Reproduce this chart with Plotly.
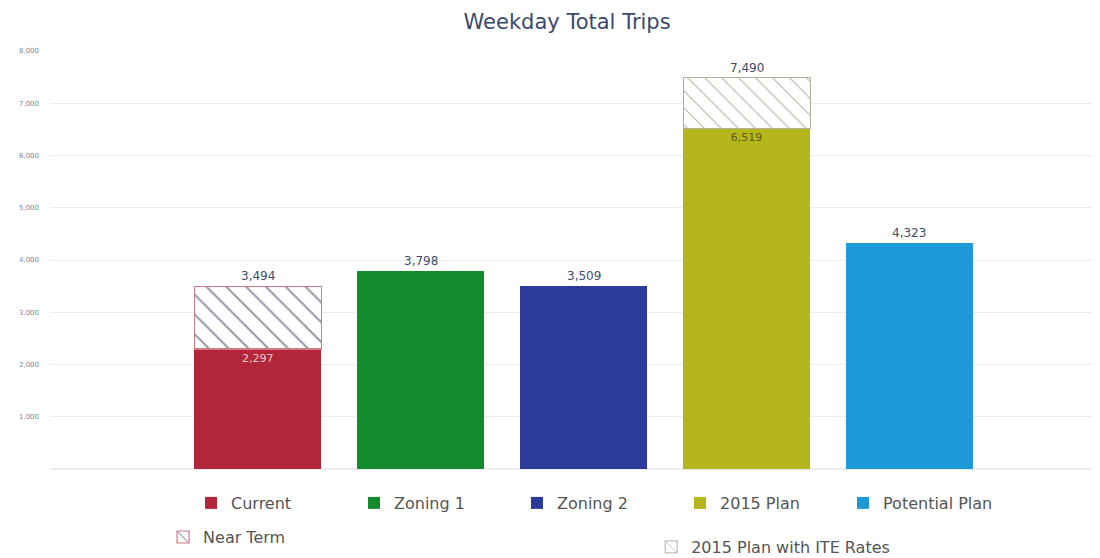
import plotly.graph_objects as go

categories = ["Current", "Zoning 1", "Zoning 2", "2015 Plan", "Potential Plan"]
base_values = [2297, 3798, 3509, 6519, 4323]
colors = ["#b3263a", "#138a2e", "#2c3a9a", "#b5b51c", "#1f9ad8"]

near_term_total = 3494   # Current + Near Term
ite_total = 7490         # 2015 Plan with ITE Rates
near_term_extra = near_term_total - base_values[0]
ite_extra = ite_total - base_values[3]

y_ticks = [1000, 2000, 3000, 4000, 5000, 6000, 7000, 8000]

label_color = "#3d4d6b"
font_family = "'DejaVu Sans', sans-serif"

fig = go.Figure()

inside_text_colors = ["#f3c9cf", None, None, "#5d5d12", None]

for i, (cat, val, col) in enumerate(zip(categories, base_values, colors)):
    kw = {}
    if inside_text_colors[i]:
        kw = dict(text=[f"{val:,}"], textposition="inside", insidetextanchor="end",
                  textfont=dict(color=inside_text_colors[i], size=11, family=font_family),
                  textangle=0)
    fig.add_trace(go.Bar(
        x=[cat], y=[val], name=cat, marker=dict(color=col, line=dict(width=0)),
        width=0.78, legend="legend", hoverinfo="skip", **kw))
    if cat == "Current":
        fig.add_trace(go.Bar(
            x=[cat], y=[near_term_extra], name="Near Term", width=0.78,
            marker=dict(color="white",
                        line=dict(color="#d07a88", width=1.2),
                        pattern=dict(shape="\\", fgcolor="#263050", bgcolor="white",
                                     size=14, solidity=0.14)),
            legend="legend2", hoverinfo="skip"))
    if cat == "2015 Plan":
        fig.add_trace(go.Bar(
            x=[cat], y=[ite_extra], name="2015 Plan with ITE Rates", width=0.78,
            marker=dict(color="white",
                        line=dict(color="#b0b0a0", width=1),
                        pattern=dict(shape="\\", fgcolor="#6f6f4a", bgcolor="white",
                                     size=12, solidity=0.1)),
            legend="legend3", hoverinfo="skip"))

# top labels
totals = [near_term_total, base_values[1], base_values[2], ite_total, base_values[4]]
for cat, tot in zip(categories, totals):
    fig.add_annotation(x=cat, y=tot, text=f"{tot:,}", showarrow=False,
                       yanchor="bottom", yshift=1,
                       font=dict(size=12, color=label_color, family=font_family))

legend_font = dict(size=16, color="#555555", family=font_family)

fig.update_layout(
    width=1092, height=550,
    barmode="stack",
    plot_bgcolor="white", paper_bgcolor="white",
    margin=dict(l=42, r=0, t=43, b=89),
    title=dict(text="Weekday Total Trips", x=0.512, xanchor="center", y=0.9745, yanchor="middle",
               font=dict(size=21, color="#3a4a6e", family=font_family)),
    xaxis=dict(categoryorder="array", categoryarray=categories,
               range=[-1.276, 5.17], showticklabels=False, showgrid=False,
               zeroline=False, showline=False, automargin=False),
    yaxis=dict(range=[0, 8000], tickvals=y_ticks, tickformat=",",
               showgrid=True, gridcolor="#ececec", gridwidth=1,
               zeroline=True, zerolinecolor="#eeeeee", automargin=False,
               tickfont=dict(size=7, color="#7a86a0", family=font_family),
               ticks="", ticklabelstandoff=10),
    legend=dict(orientation="h", xref="container", yref="container",
                x=0.1676, xanchor="left", y=0.1, yanchor="middle",
                entrywidth=118, entrywidthmode="pixels", font=legend_font,
                bgcolor="rgba(0,0,0,0)", traceorder="normal"),
    legend2=dict(orientation="h", xref="container", yref="container",
                 x=0.142, xanchor="left", y=0.038, yanchor="middle",
                 font=legend_font, bgcolor="rgba(0,0,0,0)"),
    legend3=dict(orientation="h", xref="container", yref="container",
                 x=0.589, xanchor="left", y=0.02, yanchor="middle",
                 font=legend_font, bgcolor="rgba(0,0,0,0)"),
    showlegend=True,
)

fig.write_html("out.html")
